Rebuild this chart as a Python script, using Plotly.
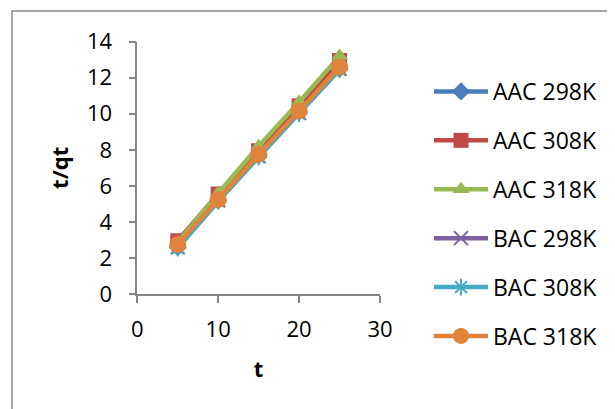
import plotly.graph_objects as go

t = [5, 10, 15, 20, 25]
aac_298 = [2.6, 5.2, 7.7, 10.1, 12.5]
aac_308 = [2.95, 5.55, 7.95, 10.45, 12.95]
aac_318 = [2.85, 5.6, 8.2, 10.65, 13.2]
bac_298 = [2.6, 5.2, 7.65, 10.05, 12.5]
bac_308 = [2.55, 5.15, 7.6, 10.0, 12.45]
bac_318 = [2.75, 5.25, 7.75, 10.15, 12.6]

names = ["AAC 298K", "AAC 308K", "AAC 318K", "BAC 298K", "BAC 308K", "BAC 318K"]
series = [aac_298, aac_308, aac_318, bac_298, bac_308, bac_318]
colors = ["#4a7ebb", "#be4b48", "#98b954", "#7d60a0", "#46aac5", "#e0843c"]
symbols = ["diamond", "square", "triangle-up", "x-thin-open", "asterisk-open", "circle"]
sizes = [14, 15, 15, 14, 14, 17]

fig = go.Figure()
for i, (n, y) in enumerate(zip(names, series)):
    open_sym = symbols[i].endswith("open")
    fig.add_trace(go.Scatter(
        x=t, y=y, name=n, mode="lines+markers",
        line=dict(color=colors[i], width=4.5),
        marker=dict(symbol=symbols[i], size=sizes[i], color=colors[i],
                    line=dict(color=colors[i], width=2 if open_sym else 0)),
        legendgroup=n,
    ))

W, H = 615, 409
OFF = 8  # page body offset of the figure in the window


def fx(p):
    return (p - OFF) / W


def fy(p):
    return (H - (p - OFF)) / H


X0, X1 = 137.3, 380.0   # plot area left/right (window px)
Y0, Y1 = 294.0, 41.7    # plot area bottom/top (window px)

fig.update_layout(
    template="none",
    width=W, height=H, autosize=False,
    margin=dict(l=0, r=0, t=0, b=0, pad=0),
    paper_bgcolor="white", plot_bgcolor="white",
    font=dict(family="Open Sans", size=22, color="black"),
    showlegend=True,
    legend=dict(x=fx(429), y=fy(70), xanchor="left", yanchor="top",
                font=dict(size=23), itemwidth=54, tracegroupgap=16,
                bgcolor="rgba(0,0,0,0)", borderwidth=0),
    xaxis=dict(domain=[fx(X0), fx(X1)], range=[0, 30], dtick=10, tick0=0,
               automargin=False, showgrid=False, zeroline=False,
               showline=True, linecolor="#868686", linewidth=1.5,
               ticks="outside", ticklen=7, tickcolor="#868686", tickwidth=1.5,
               ticklabelstandoff=8,
               title=dict(text="<b>t</b>", standoff=19, font=dict(size=22))),
    yaxis=dict(domain=[fy(Y0), fy(Y1)], range=[0, 14], dtick=2, tick0=0,
               automargin=False, showgrid=False, zeroline=False,
               showline=True, linecolor="#868686", linewidth=1.5,
               ticks="outside", ticklen=7, tickcolor="#868686", tickwidth=1.5,
               ticklabelstandoff=12,
               title=dict(text="<b>t/qt</b>", standoff=12, font=dict(size=22))),
    shapes=[dict(type="rect", xref="paper", yref="paper",
                 x0=fx(12), x1=fx(660), y0=fy(460), y1=fy(11),
                 line=dict(color="#8a8a8a", width=1.5), layer="below")],
)

fig.write_html("out.html")
